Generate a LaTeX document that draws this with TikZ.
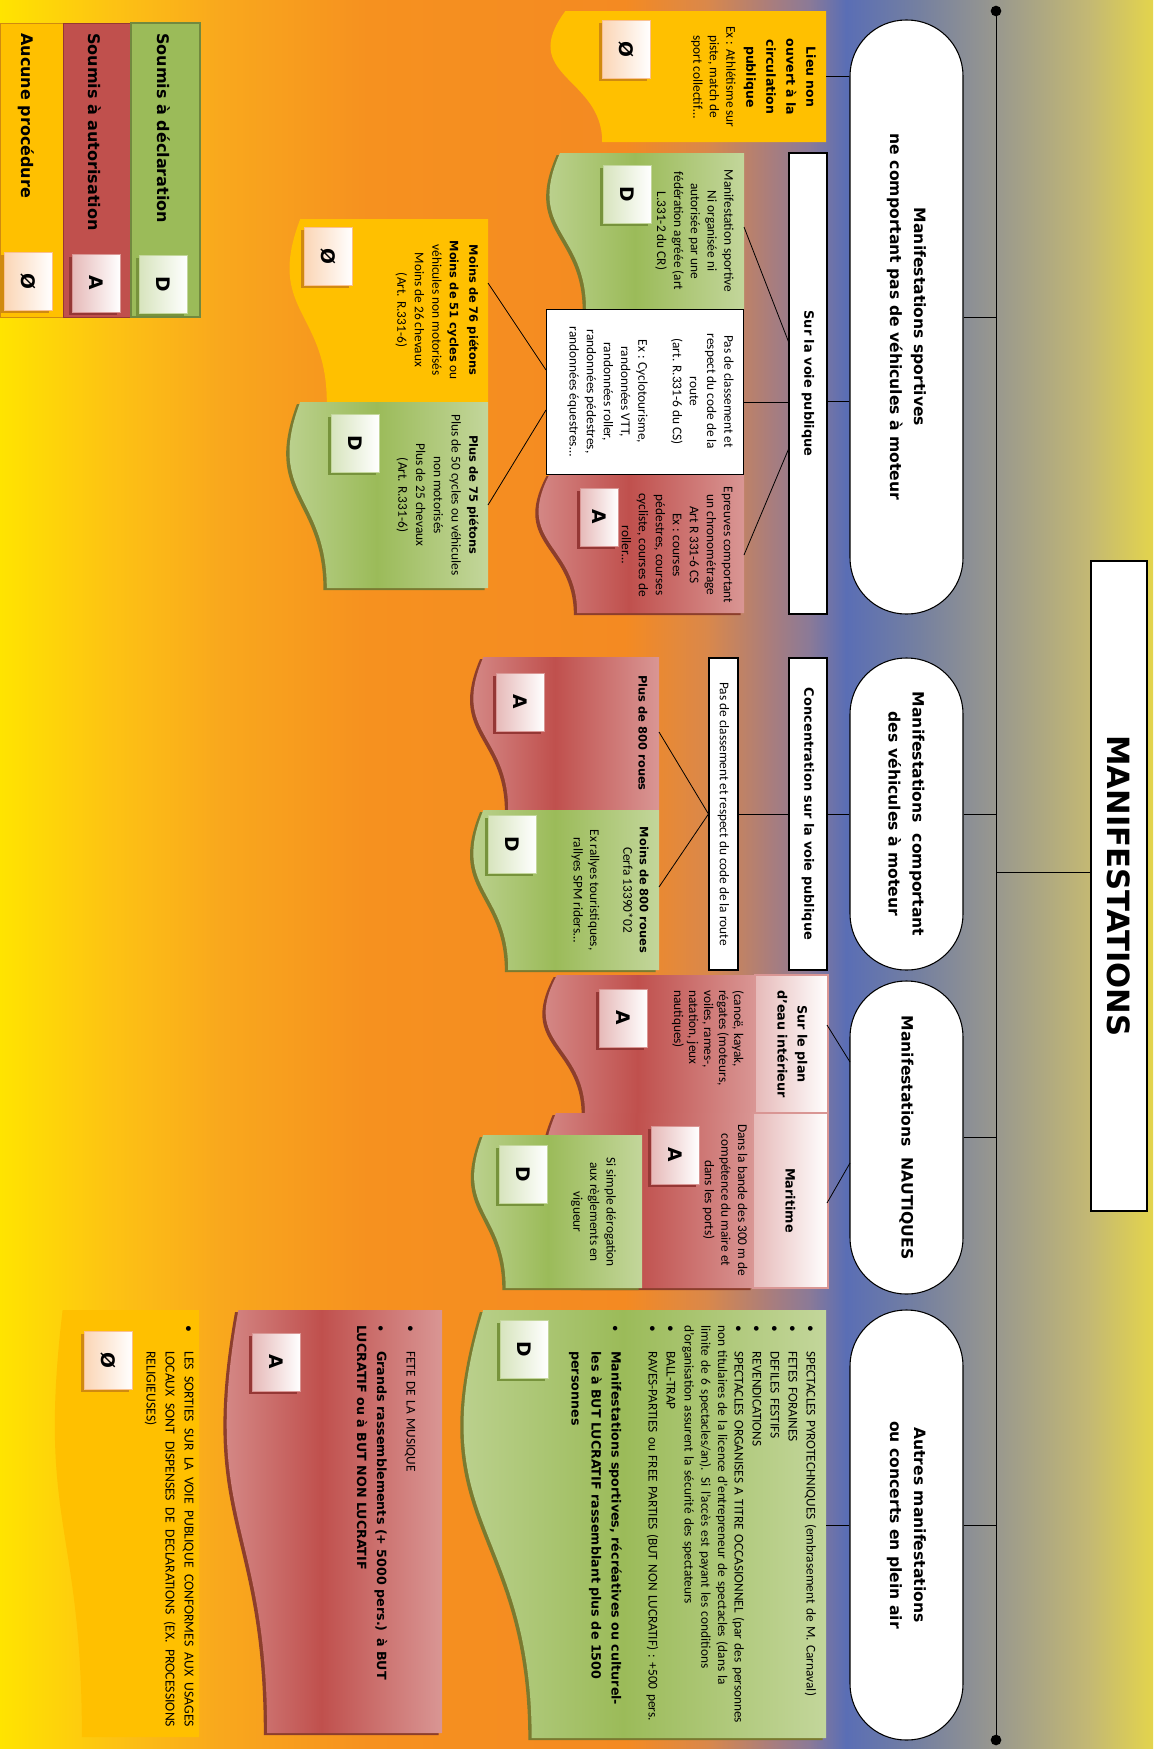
\documentclass[tikz,border=0pt]{standalone}
\usepackage{fontspec}
\setmainfont{Carlito}
\newfontfamily\headfont{DejaVu Sans}
\usepackage{graphicx}
\usepackage{xcolor}
\usepackage{tikz}
\usetikzlibrary{calc,shadows}

\definecolor{ocre}{HTML}{FFC000}
\definecolor{rouge}{HTML}{C0504D}
\definecolor{rougeClair}{HTML}{D99694}
\definecolor{ombreRouge}{HTML}{8C3E2C}
\definecolor{vert}{HTML}{9BBB59}
\definecolor{vertClair}{HTML}{C3D69B}
\definecolor{ombreVerte}{HTML}{7A7A30}
\definecolor{vertBord}{HTML}{71893F}
\definecolor{pecheL}{HTML}{FBD5B5}
\definecolor{pecheBord}{HTML}{FAC08F}
\definecolor{pecheOmbre}{HTML}{D08A10}
\definecolor{roseL}{HTML}{E6B9B8}
\definecolor{roseOmbre}{HTML}{953735}
\definecolor{vertL}{HTML}{D7E4BD}
\definecolor{vertOmbre}{HTML}{77933C}
% fond
\definecolor{f0}{HTML}{FFE400}
\definecolor{f1}{HTML}{FDC313}
\definecolor{f2}{HTML}{F9A81D}
\definecolor{f3}{HTML}{F6911F}
\definecolor{f4}{HTML}{F48A22}
\definecolor{f5}{HTML}{DA884A}
\definecolor{f6}{HTML}{A87D7E}
\definecolor{f7}{HTML}{8B7A97}
\definecolor{f8}{HTML}{5A6EB5}
\definecolor{f9}{HTML}{7580A0}
\definecolor{f10}{HTML}{969690}
\definecolor{f11}{HTML}{C3B874}
\definecolor{f12}{HTML}{E3D44C}

\pgfdeclarehorizontalshading{fond}{100bp}{color(0bp)=(f0); color(25bp)=(f0);
  color(29.77bp)=(f1); color(34.54bp)=(f2); color(40.96bp)=(f3); color(52.1bp)=(f4);
  color(55.62bp)=(f5); color(58.48bp)=(f6); color(60.08bp)=(f7); color(61.69bp)=(f8);
  color(64.85bp)=(f9); color(67.93bp)=(f10); color(72.18bp)=(f11); color(75bp)=(f12);
  color(100bp)=(f12)}
\pgfdeclarehorizontalshading{vagueVerte}{100bp}{color(0bp)=(vertClair); color(25bp)=(vertClair);
  color(50bp)=(vert); color(75bp)=(vertClair); color(100bp)=(vertClair)}
\pgfdeclarehorizontalshading{vagueRouge}{100bp}{color(0bp)=(rougeClair); color(25bp)=(rougeClair);
  color(50bp)=(rouge); color(75bp)=(rougeClair); color(100bp)=(rougeClair)}

% forme "document" couchee : R, T, B, h, options
\newcommand{\vague}[5]{%
  \path[#5] (#1,#2) -- (#1,#3) -- ({#1-0.802*#4},#3)
    .. controls ({#1-0.802*#4},{(#2+#3)/2}) and ({#1-1.108*#4},{(#2+#3)/2}) .. ({#1-0.934*#4},#2) -- cycle;}
\newcommand{\vagueV}[4]{\vague{#1}{#2}{#3}{#4}{fill=ombreVerte, xshift=-2.5pt, yshift=-1.5pt}%
  \vague{#1}{#2}{#3}{#4}{shade, shading=vagueVerte}}
\newcommand{\vagueR}[4]{\vague{#1}{#2}{#3}{#4}{fill=ombreRouge, xshift=-2.5pt, yshift=-1.5pt}%
  \vague{#1}{#2}{#3}{#4}{shade, shading=vagueRouge}}
\newcommand{\vagueJ}[4]{\vague{#1}{#2}{#3}{#4}{fill=ocre}}

\newcommand{\gras}[2][8.6]{{\headfont\bfseries\fontsize{#1}{#1}\selectfont #2}}
\newcommand{\tourne}[1]{\rotatebox{-90}{#1}}
\newcommand{\puce}[1]{\par\hangindent=19.5pt\hangafter=1\noindent\makebox[19.5pt][l]{\textbullet}#1\par}

\begin{document}
\begin{tikzpicture}[x=0.75pt, y=-0.75pt,
  lien/.style={line width=0.6pt},
  texte/.style={rotate=-90, align=center, inner sep=0pt, font=\fontsize{10}{12.6}\selectfont},
  liste/.style={rotate=-90, anchor=north west, inner sep=0pt, font=\fontsize{10}{12.5}\selectfont},
  legende/.style={rotate=-90, anchor=west, inner sep=0pt, font=\headfont\bfseries\fontsize{12}{14}\selectfont},
  titre/.style={draw, fill=white, rotate=-90, minimum width=487.5pt, minimum height=42pt,
    line width=0.8pt, font=\headfont\bfseries\fontsize{23}{26}\selectfont},
  bulle/.style={draw, fill=white, rotate=-90, rounded corners=42pt, minimum height=84.75pt,
    line width=0.8pt, align=center, font=\headfont\bfseries\fontsize{11.7}{18}\selectfont},
  cadre/.style={draw, fill=white, rotate=-90, minimum height=28.5pt, inner sep=0pt,
    line width=0.8pt, font=\headfont\bfseries\fontsize{9.7}{12}\selectfont},
  entete/.style={left color=roseL, right color=white, draw=rougeClair, line width=0.8pt,
    inner sep=0pt, font=\headfont\bfseries\fontsize{9.6}{15}\selectfont},
  lettre/.style={minimum width=36pt, minimum height=43.5pt, inner sep=0pt, line width=0.6pt,
    font=\headfont\bfseries\fontsize{14}{14}\selectfont},
  lettreO/.style={lettre, left color=pecheL, right color=white, draw=pecheBord,
    drop shadow={shadow xshift=-2pt, shadow yshift=-2pt, fill=pecheOmbre, opacity=1}},
  lettreA/.style={lettre, left color=roseL, right color=white, draw=rougeClair,
    drop shadow={shadow xshift=-2pt, shadow yshift=-2pt, fill=roseOmbre, opacity=1}},
  lettreD/.style={lettre, left color=vertL, right color=white, draw=vertClair,
    drop shadow={shadow xshift=-2pt, shadow yshift=-2pt, fill=vertOmbre, opacity=1}}]

\useasboundingbox (0,0) rectangle (1153,1749);
\shade[shading=fond] (0,0) rectangle (1153,1749);

% legende
\draw[fill=ocre, draw=pecheOmbre, line width=0.5pt] (0,23) rectangle (63,317);
\draw[fill=rouge, draw=roseOmbre, line width=0.5pt] (63,23) rectangle (131,317);
\draw[fill=vert, draw=vertBord, line width=0.8pt] (131,23) rectangle (200,317);
\node[legende] (legJT) at (26,33) {Aucune procédure};
\node[legende] (legAT) at (95,33) {Soumis à autorisation};
\node[legende] (legDT) at (163.5,33) {Soumis à déclaration};
\node[lettreO] (legJL) at (28,281) {\tourne{Ø}};
\node[lettreA] (legAL) at (96,283) {\tourne{A}};
\node[lettreD] (legDL) at (163,284) {\tourne{D}};

% tronc
\coordinate (haut) at (996,11);
\coordinate (bas) at (996,1740);
\draw[lien] (haut) -- (bas);
\fill (haut) circle (4pt);
\fill (bas) circle (4pt);

\node[titre] (titre) at (1119,886) {MANIFESTATIONS};

\node[bulle, minimum width=445.5pt] (sport) at (906.5,317) {Manifestations sportives\\ne comportant pas de véhicules à moteur};
\node[bulle, minimum width=234pt] (moteur) at (906.5,814) {Manifestations\ \ comportant\\des véhicules à moteur};
\node[bulle, minimum width=234.75pt] (nautique) at (906.5,1137.5) {Manifestations\ \ NAUTIQUES};
\node[bulle, minimum width=322.5pt] (autres) at (906.5,1525) {Autres manifestations\\ou concerts en plein air};

% sans vehicules a moteur
\vagueJ{826}{11}{142}{279}
\vagueV{744}{153}{309}{197}
\vagueJ{488}{219}{402}{201}
\vagueV{488}{402}{588}{201}
\vagueR{744}{474}{613}{208}
\node[draw, fill=white, rotate=-90, minimum width=123.75pt, minimum height=147.75pt, line width=0.6pt] (blanc) at (644.5,391.5) {};
\node[cadre, minimum width=345.75pt] (voie) at (808,383.5) {Sur la voie publique};

\node[lettreO] (lieuL) at (626,49) {\tourne{Ø}};
\node[lettreD] (d1L) at (627,194) {\tourne{D}};
\node[lettreO] (jauneL) at (328,256) {\tourne{Ø}};
\node[lettreD] (d2L) at (355,443) {\tourne{D}};
\node[lettreA, minimum width=28.5pt] (a1L) at (599,517) {\tourne{A}};
\node[texte, font=\fontsize{10}{12.4}\selectfont] (lieuT) at (753.5,77) {\gras[9.4]{Lieu non}\\[2.6pt]\gras[9.4]{ouvert à la}\\[2.6pt]\gras[9.4]{circulation}\\[2.6pt]\gras[9.4]{publique}\\[2.6pt]Ex : Athlétisme sur\\piste, match de\\sport collectif…};
\node[texte] (d1T) at (694.5,231) {Manifestation sportive\\Ni organisée ni\\autorisée par une\\fédération agréée (art\\L.331-2 du CR)};
\node[texte, font=\fontsize{10}{12.9}\selectfont] (blancT) at (650.5,391.5) {Pas de classement et\\respect du code de la\\route\\(art. R.331-6 du CS)\\[12.9pt]Ex : Cyclotourisme,\\randonnées VTT,\\randonnées roller,\\randonnées pédestres,\\randonnées équestres…};
\node[texte, font=\fontsize{10}{13.1}\selectfont] (jauneT) at (437,310) {\gras{Moins de 76 piétons}\\[1.5pt]\gras{Moins de 51 cycles} ou\\véhicules non motorisés\\Moins de 26 chevaux\\(Art. R.331-6)};
\node[texte, font=\fontsize{10}{13.3}\selectfont] (d2T) at (437.5,495) {\gras{Plus de 75 piétons}\\Plus de 50 cycles ou véhicules\\non motorisés\\Plus de 25 chevaux\\(Art. R.331-6)};
\node[texte, font=\fontsize{10}{12.75}\selectfont] (a1T) at (677,545) {Epreuves comportant\\un chronométrage\\Art R 331-6 CS\\Ex : courses\\pédestres, courses\\cycliste, courses de\\roller…};

% vehicules a moteur
\vagueR{659}{657}{810}{188}
\vagueV{659}{810}{970}{188}
\node[cadre, minimum width=234pt] (conc) at (808,814) {Concentration sur la voie publique};
\node[cadre, minimum width=234pt, minimum height=21.75pt, font=\fontsize{10}{12}\selectfont] (pas) at (723.5,814) {Pas de classement et respect du code de la route};
\node[texte] (a2T) at (643,733) {\gras{Plus de 800 roues}};
\node[texte, font=\fontsize{10}{12.4}\selectfont] (d3T) at (610,890) {\gras{Moins de 800 roues}\\Cerfa 13390*02\\[12.4pt]Ex rallyes touristiques,\\rallyes SPM riders…};
\node[lettreA] (a2L) at (520,702) {\tourne{A}};
\node[lettreD] (d3L) at (512,844) {\tourne{D}};

% nautiques
\vagueR{755}{975}{1113}{212}
\vagueR{754}{1113}{1288}{212}
\vagueV{642}{1135}{1288}{170}
\node[entete, minimum width=54.75pt, minimum height=103.5pt] (plan) at (791.5,1044) {\tourne{\begin{tabular}{@{}c@{}}Sur le plan\\d’eau intérieur\end{tabular}}};
\node[entete, minimum width=56.25pt, minimum height=131.25pt] (mari) at (790.5,1200.5) {\tourne{Maritime}};
\node[texte, anchor=west, align=left, font=\fontsize{10}{11.25}\selectfont] (a3T) at (708,990) {(canoë, kayak,\\régates (moteurs,\\voiles, rames-,\\natation, jeux\\nautiques)};
\node[texte, font=\fontsize{10}{12.5}\selectfont] (a4T) at (725,1200) {Dans la bande des 300 m de\\compétence du maire et\\dans les ports)};
\node[texte, font=\fontsize{10}{12.4}\selectfont] (d4T) at (593.5,1212) {Si simple dérogation\\aux règlements en\\vigueur};
\node[lettreA] (a3L) at (623,1018) {\tourne{A}};
\node[lettreA] (a4L) at (675,1155) {\tourne{A}};
\node[lettreD] (d4L) at (523,1174) {\tourne{D}};

% autres
\vagueV{826}{1310}{1738}{367}
\vagueR{442}{1310}{1733}{218}
\vagueJ{199}{1310}{1737}{146}
\node[liste, text width=305pt] (d5T) at (825,1325) {\raggedright\setlength{\parskip}{1pt}%
  \puce{SPECTACLES PYROTECHNIQUES (embrasement de M. Carnaval)}
  \puce{FETES FORAINES}
  \puce{DEFILES FESTIFS}
  \puce{REVENDICATIONS}
  \puce{SPECTACLES ORGANISES A TITRE OCCASIONNEL (par des personnes\\non titulaires de la licence d’entrepreneur de spectacles (dans la\\limite de 6 spectacles/an). Si l’accès est payant les conditions\\d’organisation assurent la sécurité des spectateurs}
  \puce{BALL-TRAP}
  \puce{RAVES-PARTIES ou FREE PARTIES (BUT NON LUCRATIF) : +500 pers.}
  \vspace{11.75pt}
  {\rightskip=0pt\relax\fontsize{9.5}{15}\selectfont
  \puce{\gras[9.5]{Manifestations sportives, récréatives ou culturel-\linebreak les à BUT LUCRATIF rassemblant plus de 1500\linebreak personnes}}}};
\node[liste, text width=300pt] (a5T) at (425,1325) {\raggedright\setlength{\parskip}{1pt}%
  \puce{FETE DE LA MUSIQUE}
  \vspace{11.75pt}
  {\fontsize{9.5}{15}\selectfont
  \puce{\gras[9.5]{Grands rassemblements (+ 5000 pers.) à BUT\\LUCRATIF ou à BUT NON LUCRATIF}}}};
\node[liste, text width=301.5pt, align=justify, font=\fontsize{10.3}{14.25}\selectfont] (oT) at (204,1325) {%
  \puce{LES SORTIES SUR LA VOIE PUBLIQUE CONFORMES AUX USAGES\linebreak LOCAUX SONT DISPENSES DE DECLARATIONS (EX. PROCESSIONS\linebreak RELIGIEUSES)}};
\node[lettreD] (d5L) at (524,1349) {\tourne{D}};
\node[lettreA] (a5L) at (276,1362) {\tourne{A}};
\node[lettreO] (oL) at (108,1360) {\tourne{Ø}};

% liaisons
\coordinate (jTitre) at (996,872);
\coordinate (lieuE) at (826,76);
\coordinate (voieE) at (827,401);
\coordinate (voieS1) at (789,343);
\coordinate (voieS2) at (789,402);
\coordinate (voieS3) at (789,448);
\coordinate (d1E) at (744,227);
\coordinate (a1E) at (744,555);
\coordinate (blancS1) at (546,370);
\coordinate (blancS2) at (546,410);
\coordinate (jauneE) at (488,283);
\coordinate (d2E) at (488,505);
\coordinate (a2E) at (659,732);
\coordinate (d3E) at (659,887);
\coordinate (nautS1) at (850,1062);
\coordinate (nautS2) at (850,1163);
\coordinate (planE) at (827,1025);
\coordinate (mariE) at (827,1203);
\coordinate (d5E) at (826,1525);

\draw[lien] (jTitre) -- (jTitre -| titre.south);
\draw[lien] (sport.north) -- (sport.north -| haut);
\draw[lien] (moteur.north) -- (moteur.north -| haut);
\draw[lien] (nautique.north) -- (nautique.north -| haut);
\draw[lien] (autres.north) -- (autres.north -| haut);

\draw[lien] (lieuE -| sport.south) -- (lieuE);
\draw[lien] (voieE -| sport.south) -- (voieE);
\draw[lien] (voieS1) -- (d1E);
\draw[lien] (voieS2) -- (voieS2 -| blanc.north);
\draw[lien] (voieS3) -- (a1E);
\draw[lien] (blancS1) -- (jauneE);
\draw[lien] (blancS2) -- (d2E);

\draw[lien] (moteur.south) -- (conc.north);
\draw[lien] (conc.south) -- (pas.north);
\draw[lien] (pas.south) -- (a2E);
\draw[lien] (pas.south) -- (d3E);

\draw[lien] (nautS1) -- (planE);
\draw[lien] (nautS2) -- (mariE);

\draw[lien] (autres.south) -- (d5E);

\end{tikzpicture}
\end{document}
